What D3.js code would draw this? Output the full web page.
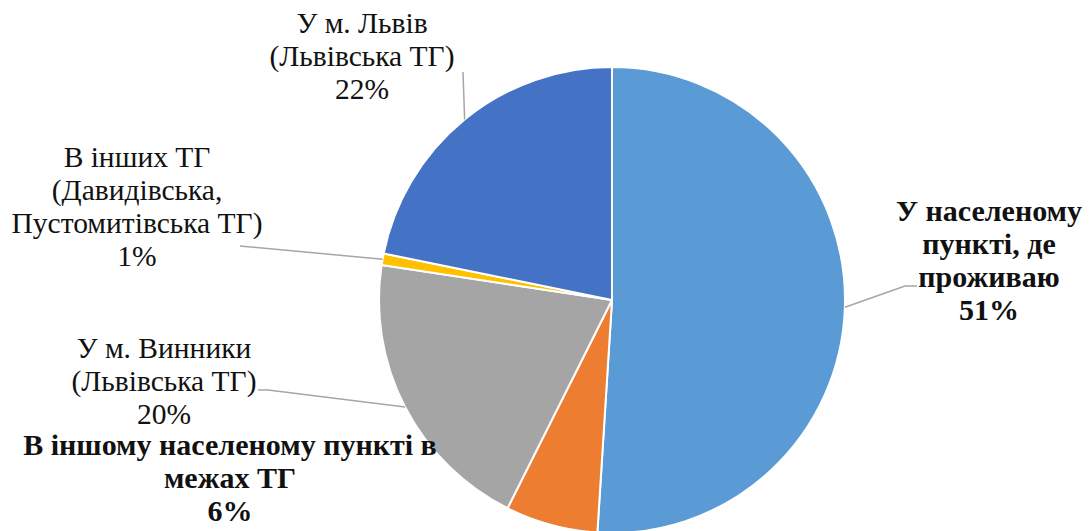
<!DOCTYPE html>
<html>
<head>
<meta charset="utf-8">
<script src="https://cdn.jsdelivr.net/npm/d3@7"></script>
<style>
  html, body { margin: 0; padding: 0; background: #fff; }
</style>
</head>
<body>
<div id="chart"></div>
<script>
// Categories (label lines) and shares, clockwise from 12 o'clock
const categories = [
  ['У населеному', 'пункті, де', 'проживаю'],
  ['В іншому населеному пункті в', 'межах ТГ'],
  ['У м. Винники', '(Львівська ТГ)'],
  ['В інших ТГ', '(Давидівська,', 'Пустомитівська ТГ)'],
  ['У м. Львів', '(Львівська ТГ)']
];
const values = [51.0, 6.4, 20.0, 0.8, 21.8];
const percentLabels = ['51%', '6%', '20%', '1%', '22%'];
const boldLabels = [true, true, false, false, false];
const colors = ['#5B9BD5', '#ED7D31', '#A5A5A5', '#FFC000', '#4472C4'];

const width = 1089;
const height = 531;
const cx = 612;
const cy = 300;
const radius = 233;

// label placement: text centre x, first baseline y, and leader end point(s)
const labelLayout = [
  { x: 989, y: 221, leader: [[905, 286], [917, 286]] },
  { x: 230, y: 455, leader: null },
  { x: 164, y: 358, leader: [[268, 390], [258, 390]] },
  { x: 137, y: 167, leader: [[240, 246]] },
  { x: 362, y: 33, leader: [[463, 72]] }
];
const lineHeight = 33;

const svg = d3
  .select('#chart')
  .append('svg')
  .attr('width', width)
  .attr('height', height);

const pie = d3.pie().sort(null).value((d) => d);
const arcs = pie(values);

const arc = d3.arc().innerRadius(0).outerRadius(radius);

const g = svg.append('g').attr('transform', `translate(${cx},${cy})`);

g.selectAll('path')
  .data(arcs)
  .enter()
  .append('path')
  .attr('d', arc)
  .attr('fill', (d, i) => colors[i])
  .attr('stroke', '#fff')
  .attr('stroke-width', 2)
  .attr('stroke-linejoin', 'round');

// leader lines from the slice edge to the label
arcs.forEach((d, i) => {
  const lay = labelLayout[i];
  if (!lay.leader) return;
  const mid = (d.startAngle + d.endAngle) / 2;
  const start = [cx + radius * Math.sin(mid), cy - radius * Math.cos(mid)];
  svg
    .append('path')
    .attr('d', d3.line()([start].concat(lay.leader)))
    .attr('fill', 'none')
    .attr('stroke', '#A6A6A6')
    .attr('stroke-width', 1.5);
});

// data labels, one text element per line
arcs.forEach((d, i) => {
  const lay = labelLayout[i];
  const lines = categories[i].concat([percentLabels[i]]);
  lines.forEach((line, k) => {
    svg
      .append('text')
      .attr('x', lay.x)
      .attr('y', lay.y + k * lineHeight)
      .attr('text-anchor', 'middle')
      .attr('font-family', "'Liberation Serif', monospace")
      .attr('font-size', boldLabels[i] ? 30 : 29.5)
      .attr('font-weight', boldLabels[i] ? 'bold' : 'normal')
      .attr('fill', '#111')
      .text(line);
  });
});
</script>
</body>
</html>
